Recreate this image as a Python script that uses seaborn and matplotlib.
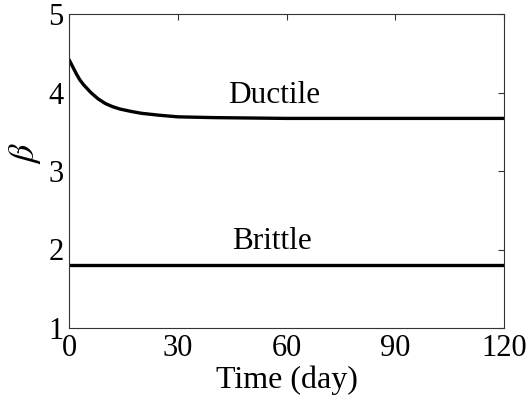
import numpy as np
import pandas as pd
import matplotlib
matplotlib.use("Agg")
import matplotlib.pyplot as plt
import seaborn as sns

# Data
time_ductile = [0, 1, 2, 3, 4, 5, 6, 7, 8, 9, 10, 11, 12, 14, 17, 20, 25, 30,
                35, 40, 50, 60, 90, 120]
beta_ductile = [4.42, 4.33, 4.24, 4.16, 4.10, 4.05, 4.00, 3.96, 3.92, 3.89,
                3.86, 3.84, 3.82, 3.79, 3.76, 3.735, 3.71, 3.69, 3.685, 3.68,
                3.675, 3.67, 3.67, 3.67]
time_brittle = [0, 120]
beta_brittle = [1.80, 1.80]
x_ticks = [0, 30, 60, 90, 120]
y_ticks = [1, 2, 3, 4, 5]

sns.set_theme(style="white")
plt.rcParams['font.family'] = ['Liberation Serif', 'DejaVu Serif']
plt.rcParams['mathtext.fontset'] = 'stix'

fig = plt.figure(figsize=(5.29, 4.04), dpi=100)
ax = fig.add_axes([69/529, 1 - 328/404, (504-69)/529, (328-14)/404])

df_d = pd.DataFrame({"t": time_ductile, "b": beta_ductile})
df_b = pd.DataFrame({"t": time_brittle, "b": beta_brittle})
sns.lineplot(data=df_d, x="t", y="b", ax=ax, color="black", linewidth=2.4)
sns.lineplot(data=df_b, x="t", y="b", ax=ax, color="black", linewidth=2.4)

ax.text(56.7, 3.866, "Ductile", fontsize=22.5, ha="center", va="baseline", color="black")
ax.text(56.0, 2.006, "Brittle", fontsize=22.5, ha="center", va="baseline", color="black")

ax.set_xlim(0, 120)
ax.set_ylim(1, 5)
ax.set_xticks(x_ticks)
ax.set_yticks(y_ticks)
ax.tick_params(direction="in", length=4.5, width=0.8, top=True, right=True,
               labelsize=22, colors="#333333", labelcolor="black", pad=4)
for s in ax.spines.values():
    s.set_color("#333333")
    s.set_linewidth(0.8)
ax.set_xlabel("Time (day)", fontsize=23, color="black", labelpad=2)
ax.set_ylabel(r"$\beta$", fontsize=26, color="black")
ax.yaxis.set_label_coords(-0.06, 0.557)

fig.savefig("out.png", dpi=100)
